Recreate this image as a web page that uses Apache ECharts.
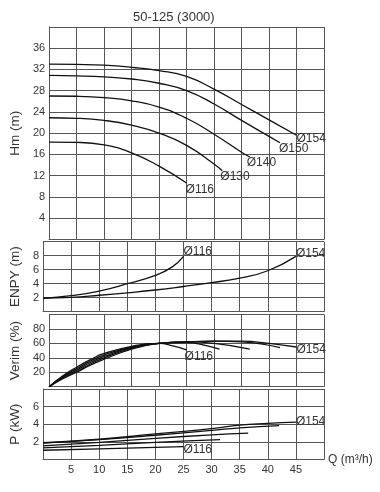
<!DOCTYPE html>
<html>
<head>
<meta charset="utf-8">
<script src="https://cdn.jsdelivr.net/npm/echarts@6/dist/echarts.min.js"></script>
<style>
html,body{margin:0;padding:0;background:#fff;}
#c{width:380px;height:492px;}
</style>
</head>
<body>
<div id="c"></div>
<script>
const chartTitle = '50-125 (3000)';
const diameters = ['Ø116', 'Ø130', 'Ø140', 'Ø150', 'Ø154'];

// Head Hm (m) vs Q (m³/h)
const hm116 = [[0,18.3],[5,18.25],[10,17.8],[15,16.3],[20,13.8],[25,10.6]];
const hm130 = [[0,22.9],[5,22.8],[10,22.4],[15,21.5],[20,20.0],[25,17.7],[30,14.2],[31.5,12.9]];
const hm140 = [[0,27.0],[5,26.95],[10,26.7],[15,26.1],[20,24.9],[25,22.8],[30,19.8],[35,16.4],[36.5,15.5]];
const hm150 = [[0,30.9],[5,30.8],[10,30.6],[15,30.2],[20,29.4],[25,28.0],[30,25.5],[35,22.4],[40,19.4],[42,18.2]];
const hm154 = [[0,33.0],[5,32.95],[10,32.8],[15,32.4],[20,31.8],[25,30.7],[30,28.3],[35,25.4],[40,22.5],[45,19.6]];

// ENPY (m)
const npsh116 = [[0,1.9],[5,2.3],[10,2.95],[15,4.0],[20,5.2],[23,6.4],[25,7.9]];
const npsh154 = [[0,1.95],[5,2.05],[10,2.35],[15,2.7],[20,3.1],[25,3.6],[30,4.15],[35,4.8],[40,5.85],[45,7.9]];

// Verim (%)
const eff116 = [[0,0],[2.5,15],[5,27],[7.5,37.5],[10,46],[15,56],[20,60],[22.5,56.5],[25,51]];
const eff130 = [[0,0],[2.5,14],[5,25],[7.5,35.5],[10,44],[15,55],[20,60],[25,61],[28,58],[31,52]];
const eff140 = [[0,0],[2.5,13],[5,23],[7.5,33.5],[10,42],[15,54],[20,60],[25,62],[30,60],[36.5,52]];
const eff150 = [[0,0],[2.5,12],[5,21],[7.5,31.5],[10,40],[15,53],[20,60],[25,62],[30,63],[35,62],[42,54]];
const eff154 = [[0,0],[2.5,11],[5,20],[7.5,30],[10,38],[15,52],[20,60],[25,62],[30,63],[35,63],[40,60],[45,55]];

// P (kW)
const pw116 = [[0,1.05],[10,1.2],[20,1.38],[25,1.45]];
const pw130 = [[0,1.33],[10,1.6],[20,1.95],[31.5,2.25]];
const pw140 = [[0,1.55],[10,1.95],[20,2.4],[30,2.8],[36.5,3.0]];
const pw150 = [[0,1.85],[10,2.25],[20,2.75],[30,3.3],[35,3.6],[42,3.85]];
const pw154 = [[0,1.9],[10,2.3],[20,2.9],[30,3.5],[35,3.9],[40,4.1],[45,4.25]];

const yNames = ['Hm (m)', 'ENPY (m)', 'Verim (%)', 'P (kW)'];
const xName = 'Q (m³/h)';

const FONT = 'Liberation Sans';
const gridColor = '#555';
const lineColor = '#111';

const grids = [
  {left:39, right:56, top:27, height:212.3},
  {left:39, right:56, top:241.7, height:70},
  {left:39, right:56, top:314.5, height:72.2},
  {left:39, right:56, top:389, height:70.5}
];
const yRanges = [[0,40,4],[0,10,2],[0,100,20],[0,8,2]];

const xAxes = grids.map((g,i)=>({
  gridIndex:i, type:'value', min:0, max:50, interval:5,
  name: i===3 ? xName : '', nameLocation:'end', nameGap:4,
  nameTextStyle:{fontFamily:FONT, fontSize:12, color:'#333', verticalAlign:'middle'},
  axisLine:{show:true, lineStyle:{color:gridColor, width:1}},
  axisTick:{show:false},
  splitLine:{show:true, lineStyle:{color:gridColor, width:1}},
  axisLabel:{show:i===3, showMinLabel:false, showMaxLabel:false, fontFamily:FONT, fontSize:11, color:'#333', margin:5}
}));
const yAxes = grids.map((g,i)=>({
  gridIndex:i, type:'value', min:yRanges[i][0], max:yRanges[i][1], interval:yRanges[i][2],
  name:yNames[i], nameLocation:'middle', nameGap:20, nameRotate:90,
  nameTextStyle:{fontFamily:FONT, fontSize:13.5, color:'#333'},
  axisLine:{show:true, lineStyle:{color:gridColor, width:1}},
  axisTick:{show:false},
  splitLine:{show:true, lineStyle:{color:gridColor, width:1}},
  axisLabel:{showMinLabel:false, showMaxLabel:false, fontFamily:FONT, fontSize:11, color:'#333', margin:4}
}));

function mk(name, data, gi, labelOffset){
  const s = {
    type:'line', name:name, data:data, xAxisIndex:gi, yAxisIndex:gi,
    smooth:0.5, showSymbol:false, symbol:'none',
    lineStyle:{color:lineColor, width:1.3},
    silent:true
  };
  if (labelOffset) {
    s.endLabel = {show:true, formatter:name, distance:0, offset:labelOffset,
      fontFamily:FONT, fontSize:12, color:'#333'};
  }
  return s;
}

const series = [
  mk(diameters[0], hm116, 0, [-1,7]),
  mk(diameters[1], hm130, 0, [-2,6]),
  mk(diameters[2], hm140, 0, [-3,6]),
  mk(diameters[3], hm150, 0, [-1,6]),
  mk(diameters[4], hm154, 0, [0,3]),
  mk(diameters[0], npsh116, 1, [0,-5]),
  mk(diameters[4], npsh154, 1, [0,-3]),
  mk(diameters[0], eff116, 2, [-2,7]),
  mk(diameters[1], eff130, 2, null),
  mk(diameters[2], eff140, 2, null),
  mk(diameters[3], eff150, 2, null),
  mk(diameters[4], eff154, 2, [0,3]),
  mk(diameters[0], pw116, 3, [0,3]),
  mk(diameters[1], pw130, 3, null),
  mk(diameters[2], pw140, 3, null),
  mk(diameters[3], pw150, 3, null),
  mk(diameters[4], pw154, 3, [0,0])
];

const chart = echarts.init(document.getElementById('c'), null, {renderer:'canvas'});
chart.setOption({
  animation:false,
  backgroundColor:'#fff',
  title:{text:chartTitle, left:128, top:6, textStyle:{fontFamily:FONT, fontSize:13, fontWeight:'normal', color:'#333'}},
  grid:grids,
  xAxis:xAxes,
  yAxis:yAxes,
  series:series
});
</script>
</body>
</html>
